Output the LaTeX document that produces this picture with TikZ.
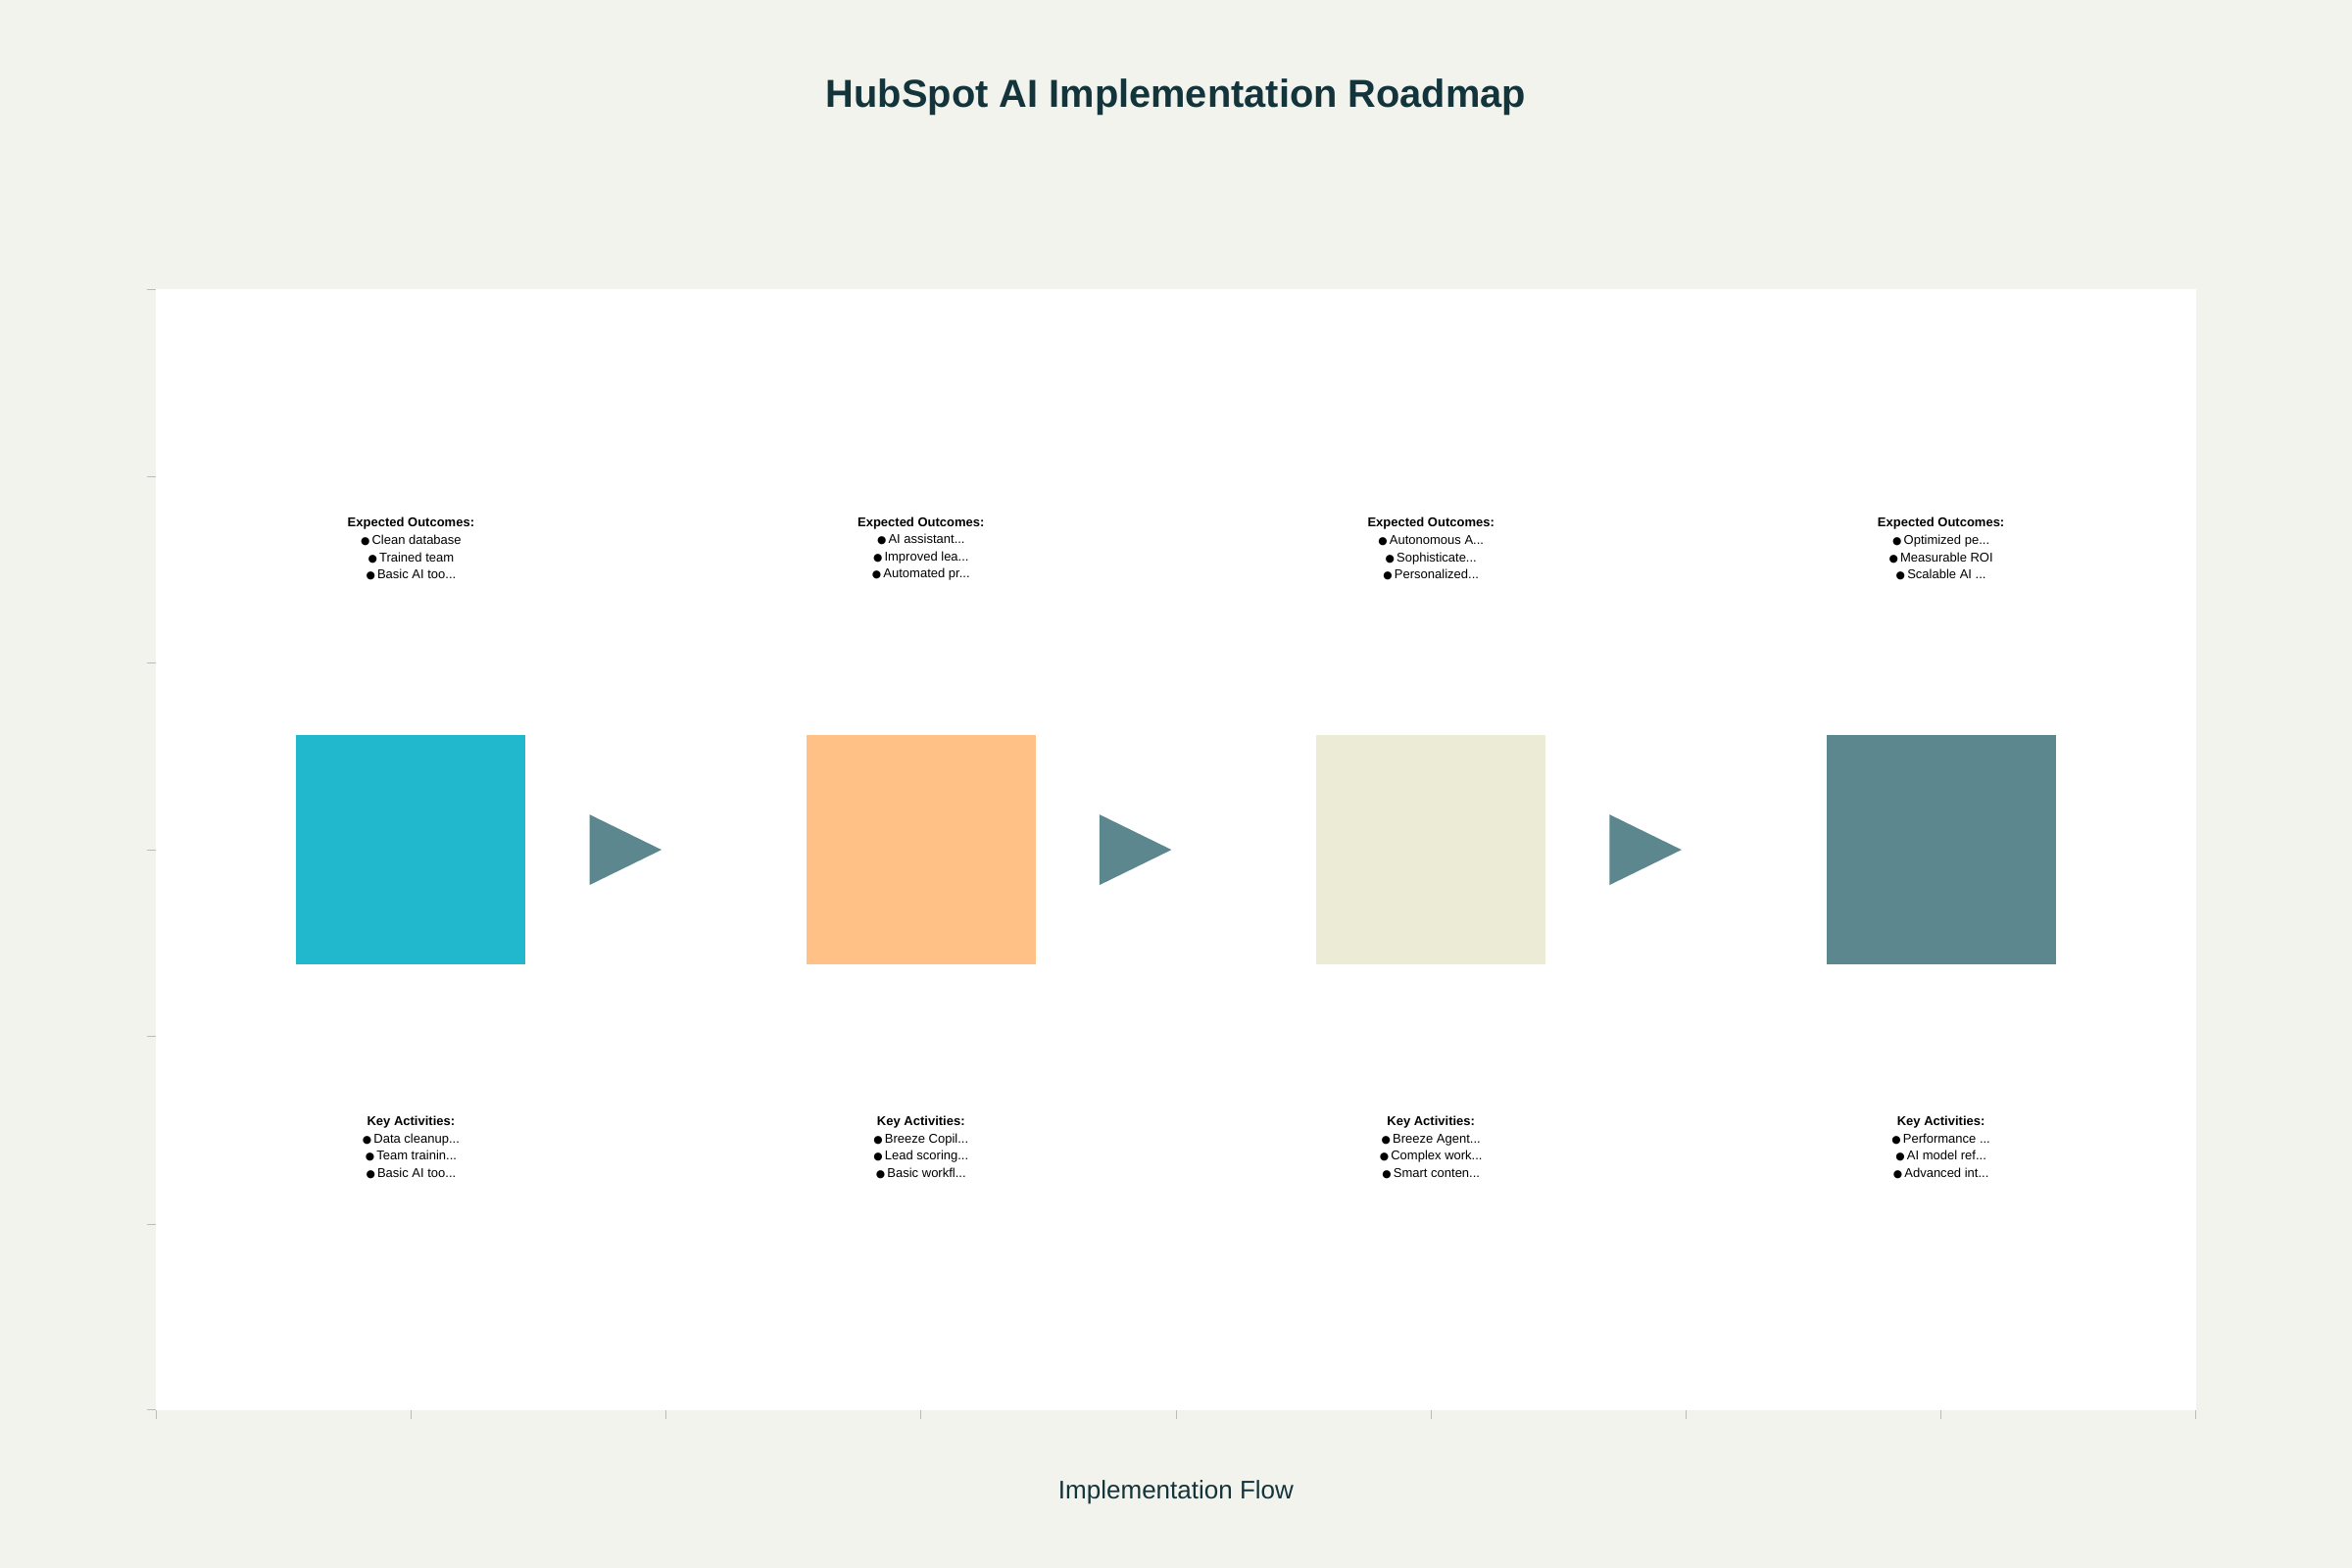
\documentclass[tikz,border=0pt]{standalone}
\usepackage{fontspec}
\setmainfont{Liberation Sans}
\newfontfamily\djfont{DejaVu Sans}
\definecolor{bg}{HTML}{F3F3EE}
\definecolor{ttl}{HTML}{13343B}
\definecolor{cA}{HTML}{21B8CE}
\definecolor{cB}{HTML}{FFC185}
\definecolor{cC}{HTML}{ECEBD5}
\definecolor{cD}{HTML}{5D878F}
\definecolor{tk}{HTML}{BBBBBB}
\newcommand{\bl}{{\djfont\scriptsize ●}\,}
\newcommand{\ld}{.{}.{}.}
\begin{document}
\begin{tikzpicture}[x=1pt,y=-1pt,
 box/.style={minimum width=153pt,minimum height=153pt,inner sep=0pt},
 txt/.style={font=\fontsize{8.5}{11.5}\selectfont,align=center,text=black},
 arr/.style={fill=cD,draw=none}]
\useasboundingbox (0,0) rectangle (1568,1045);
\fill[bg] (0,0) rectangle (1568,1045);
\fill[white] (104,193) rectangle (1464,940);
\foreach \y in {193,318,442,567,691,816,940} \draw[tk,line width=0.6pt] (98,\y)--(104,\y);
\foreach \x in {104,274,444,614,784,954,1124,1294,1464} \draw[tk,line width=0.6pt] (\x,940)--(\x,946);
\node[font=\bfseries\fontsize{26}{30}\selectfont,text=ttl] (title) at (784,65) {HubSpot AI Implementation Roadmap};
\node[font=\fontsize{17}{20}\selectfont,text=ttl] (xl) at (784,995) {Implementation Flow};
\foreach \i/\c/\xa/\ea/\eb/\ec/\ka/\kb/\kc in {
 1/cA/274/Clean database/Trained team/Basic AI too\ld/Data cleanup\ld/Team trainin\ld/Basic AI too\ld,
 2/cB/614/AI assistant\ld/Improved lea\ld/Automated pr\ld/Breeze Copil\ld/Lead scoring\ld/Basic workfl\ld,
 3/cC/954/Autonomous A\ld/Sophisticate\ld/Personalized\ld/Breeze Agent\ld/Complex work\ld/Smart conten\ld,
 4/cD/1294/Optimized pe\ld/Measurable ROI/Scalable AI \ld/Performance \ld/AI model ref\ld/Advanced int\ld}{
 \node[box,fill=\c] (b\i) at (\xa,566.5) {};
 \node[txt] (e\i) at (\xa,366) {\textbf{Expected Outcomes:}\\ \bl\ea\\ \bl\eb\\ \bl\ec};
 \node[txt] (k\i) at (\xa,765) {\textbf{Key Activities:}\\ \bl\ka\\ \bl\kb\\ \bl\kc};
}
\foreach \x/\n in {393/1,733/2,1073/3} \fill[arr] (\x,543) coordinate (t\n) -- (\x+48,566.5) -- (\x,590) -- cycle;
\end{tikzpicture}
\end{document}
